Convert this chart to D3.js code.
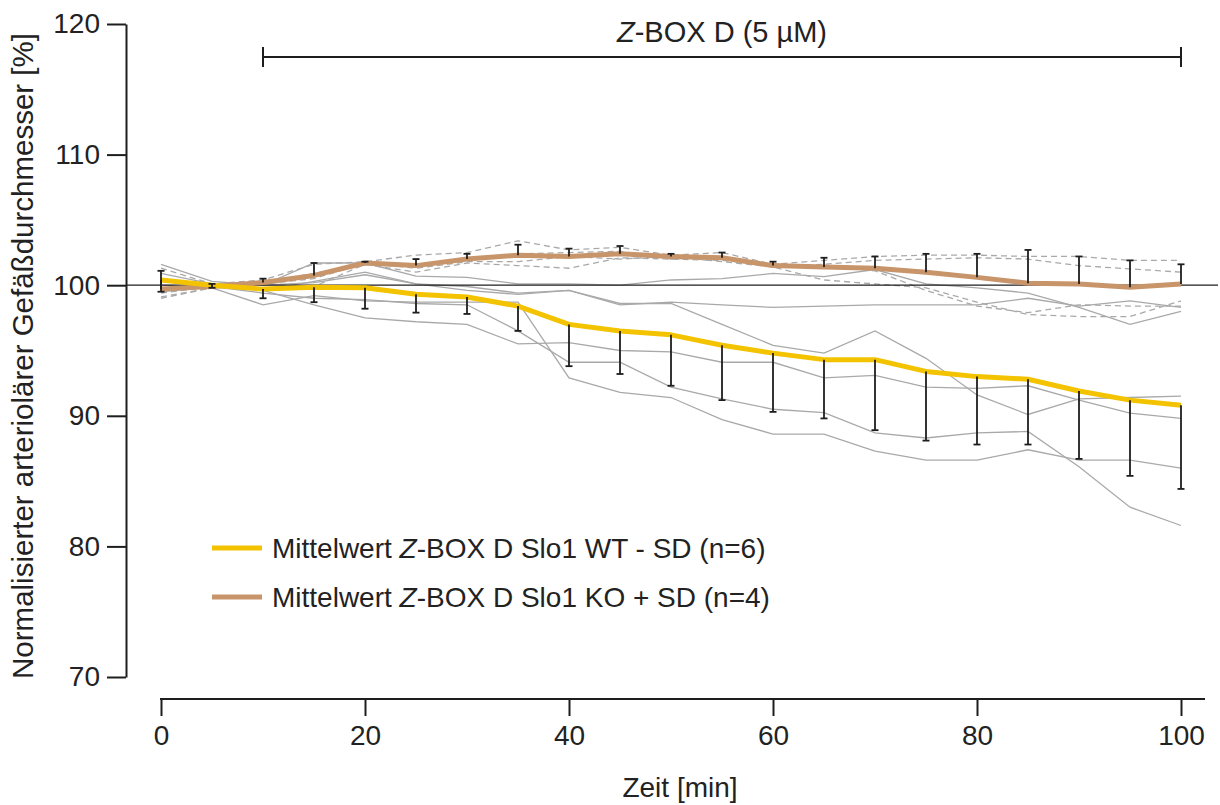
<!DOCTYPE html>
<html>
<head>
<meta charset="utf-8">
<script src="https://cdn.jsdelivr.net/npm/d3@7"></script>
<style>
  html, body { margin: 0; padding: 0; background: #ffffff; }
  svg { display: block; font-family: "Liberation Sans", Arial, sans-serif; }
</style>
</head>
<body>
<svg id="chart" width="1220" height="805"></svg>
<script>
// Time points [min]
const timeMin = [0, 5, 10, 15, 20, 25, 30, 35, 40, 45, 50, 55, 60, 65, 70, 75, 80, 85, 90, 95, 100];

// Slo1 WT: mean and SD (bars drawn downward)
const wtMean = [100.4, 100.0, 99.7, 99.85, 99.8, 99.3, 99.1, 98.4, 97.0, 96.5, 96.2, 95.4, 94.8, 94.3, 94.3, 93.4, 93.0, 92.8, 91.9, 91.2, 90.8];
const wtSD   = [0.9, 0.2, 0.7, 1.15, 1.6, 1.4, 1.3, 1.9, 3.2, 3.3, 3.9, 4.2, 4.5, 4.5, 5.4, 5.3, 5.2, 5.0, 5.2, 5.8, 6.4];

// Slo1 KO: mean and SD (bars drawn upward)
const koMean = [99.7, 99.9, 100.2, 100.75, 101.7, 101.5, 102.0, 102.3, 102.2, 102.4, 102.2, 102.1, 101.5, 101.4, 101.3, 101.0, 100.6, 100.15, 100.1, 99.85, 100.1];
const koSD   = [1.4, 0.2, 0.3, 0.95, 0.1, 0.5, 0.4, 0.8, 0.6, 0.6, 0.2, 0.4, 0.3, 0.7, 0.9, 1.4, 1.8, 2.55, 2.1, 2.05, 1.5];

// Single vessels, Slo1 WT (n=6)
const wt1 = [101.6, 100.3, 100.0, 101.7, 101.7, 100.7, 100.6, 100.1, 100.1, 100.0, 100.4, 100.5, 100.9, 100.65, 101.2, 100.1, 99.8, 99.4, 98.3, 97.0, 98.0];
const wt2 = [100.9, 100.1, 99.6, 100.3, 101.0, 100.1, 99.6, 99.3, 99.6, 98.5, 98.7, 98.5, 98.3, 98.4, 98.5, 98.5, 98.5, 99.0, 98.4, 98.8, 98.3];
const wt3 = [100.5, 100.0, 100.0, 100.2, 100.8, 100.1, 99.9, 99.4, 99.6, 98.6, 98.6, 97.0, 95.4, 94.8, 96.5, 94.4, 91.6, 90.1, 91.3, 91.4, 91.5];
const wt4 = [100.0, 99.9, 99.6, 98.5, 97.5, 97.2, 97.0, 95.5, 95.6, 95.0, 94.9, 94.1, 94.1, 92.9, 93.1, 92.2, 92.1, 92.3, 91.2, 90.2, 89.8];
const wt5 = [99.7, 99.8, 98.5, 99.2, 98.8, 98.7, 98.7, 98.7, 92.9, 91.8, 91.4, 89.7, 88.6, 88.6, 87.3, 86.6, 86.6, 87.4, 86.6, 86.6, 86.0];
const wt6 = [99.5, 99.9, 99.4, 99.0, 98.9, 98.6, 98.5, 96.5, 94.1, 94.1, 92.2, 91.3, 90.5, 90.25, 88.7, 88.3, 88.7, 88.8, 86.1, 83.0, 81.6];

// Single vessels, Slo1 KO (n=4)
const ko1 = [101.3, 100.1, 100.4, 101.6, 101.8, 102.3, 102.5, 103.4, 102.7, 102.9, 102.3, 102.5, 101.6, 101.9, 102.2, 102.3, 102.3, 102.2, 102.2, 101.9, 101.9];
const ko2 = [99.4, 99.9, 100.2, 100.9, 101.7, 101.4, 102.0, 102.4, 102.5, 102.6, 102.0, 102.2, 101.4, 101.6, 101.9, 102.0, 102.1, 102.0, 101.5, 101.25, 101.0];
const ko3 = [99.1, 99.8, 100.1, 100.5, 101.7, 101.3, 101.8, 101.8, 102.2, 102.0, 102.2, 101.8, 101.4, 100.4, 100.1, 99.8, 98.7, 97.75, 97.6, 97.6, 98.8];
const ko4 = [99.0, 99.8, 100.1, 99.9, 101.6, 101.0, 101.7, 101.5, 101.3, 102.1, 102.0, 101.9, 101.5, 101.5, 101.1, 99.6, 98.4, 97.9, 98.5, 98.4, 98.4];

// Axis ticks and text
const yTicks = [70, 80, 90, 100, 110, 120];
const xTicks = [0, 20, 40, 60, 80, 100];
const treatment = { start: 10, end: 100 };
const legendLabels = [
  { pre: "Mittelwert ", it: "Z", post: "-BOX D Slo1 WT - SD (n=6)" },
  { pre: "Mittelwert ", it: "Z", post: "-BOX D Slo1 KO + SD (n=4)" }
];

const WT_COLOR = "#f4c300";
const KO_COLOR = "#c8956b";
const TRACE_COLOR = "#a9a9a9";
const INK = "#1e1e1e";
const FONT_SIZE = 28;

const svg = d3.select("#chart");
const x = d3.scaleLinear().domain([0, 100]).range([161, 1181]);
const y = d3.scaleLinear().domain([70, 120]).range([677, 24]);

const line = d3.line().x((d, i) => x(timeMin[i])).y(d => y(d));

// Individual vessel traces
const traceLayer = svg.append("g");
[wt1, wt2, wt3, wt4, wt5, wt6].forEach(tr => {
  traceLayer.append("path").attr("d", line(tr))
    .attr("fill", "none").attr("stroke", TRACE_COLOR).attr("stroke-width", 1.3);
});
[ko1, ko2, ko3, ko4].forEach(tr => {
  traceLayer.append("path").attr("d", line(tr))
    .attr("fill", "none").attr("stroke", TRACE_COLOR).attr("stroke-width", 1.3)
    .attr("stroke-dasharray", "6,4");
});

// Baseline at 100 %
svg.append("line")
  .attr("x1", 127).attr("x2", 1218)
  .attr("y1", y(100)).attr("y2", y(100))
  .attr("stroke", INK).attr("stroke-width", 1.3);

// Mean curves
svg.append("path").attr("d", line(koMean))
  .attr("fill", "none").attr("stroke", KO_COLOR).attr("stroke-width", 5)
  .attr("stroke-linejoin", "round");
svg.append("path").attr("d", line(wtMean))
  .attr("fill", "none").attr("stroke", WT_COLOR).attr("stroke-width", 5)
  .attr("stroke-linejoin", "round");

// Error bars: WT downward (-SD), KO upward (+SD)
const capW = 3.5;
function errorBars(mean, sd, dir) {
  const g = svg.append("g").attr("stroke", INK).attr("stroke-width", 1.8);
  timeMin.forEach((t, i) => {
    const y0 = y(mean[i]);
    const y1 = y(mean[i] + dir * sd[i]);
    g.append("line").attr("x1", x(t)).attr("x2", x(t)).attr("y1", y0).attr("y2", y1);
    g.append("line").attr("x1", x(t) - capW).attr("x2", x(t) + capW).attr("y1", y1).attr("y2", y1);
  });
}
errorBars(wtMean, wtSD, -1);
errorBars(koMean, koSD, +1);

// Y axis
const yAxis = svg.append("g").attr("transform", "translate(126,0)")
  .call(d3.axisLeft(y).tickValues(yTicks).tickSize(19).tickSizeOuter(0).tickPadding(7));
yAxis.select(".domain").attr("stroke", INK).attr("stroke-width", 2);
yAxis.selectAll(".tick line").attr("stroke", INK).attr("stroke-width", 2);
yAxis.selectAll(".tick text").attr("font-size", FONT_SIZE).attr("fill", "#222")
  .attr("font-family", "Liberation Sans, Arial, sans-serif");

// X axis
const xAxis = svg.append("g").attr("transform", "translate(0,699)")
  .call(d3.axisBottom(x).tickValues(xTicks).tickSize(17).tickSizeOuter(0).tickPadding(9));
xAxis.select(".domain").remove();
xAxis.append("line").attr("x1", x(0) - 1).attr("x2", 1205).attr("y1", 0).attr("y2", 0)
  .attr("stroke", INK).attr("stroke-width", 2);
xAxis.selectAll(".tick line").attr("stroke", INK).attr("stroke-width", 2);
xAxis.selectAll(".tick text").attr("font-size", FONT_SIZE).attr("fill", "#222")
  .attr("font-family", "Liberation Sans, Arial, sans-serif");

// Axis titles
svg.append("text")
  .attr("x", 680).attr("y", 797).attr("text-anchor", "middle")
  .attr("font-size", FONT_SIZE).attr("fill", "#222").text("Zeit [min]");
svg.append("text")
  .attr("transform", "translate(33,356) rotate(-90)")
  .attr("text-anchor", "middle").attr("font-size", 29.5).attr("fill", "#222")
  .text("Normalisierter arteriolärer Gefäßdurchmesser [%]");

// Treatment period bar
const tb = svg.append("g").attr("stroke", INK).attr("stroke-width", 2);
tb.append("line").attr("x1", x(treatment.start)).attr("x2", x(treatment.end)).attr("y1", 57).attr("y2", 57);
tb.append("line").attr("x1", x(treatment.start)).attr("x2", x(treatment.start)).attr("y1", 47).attr("y2", 67);
tb.append("line").attr("x1", x(treatment.end)).attr("x2", x(treatment.end)).attr("y1", 47).attr("y2", 67);
const title = svg.append("text")
  .attr("x", (x(treatment.start) + x(treatment.end)) / 2).attr("y", 42)
  .attr("text-anchor", "middle").attr("font-size", 29).attr("fill", "#222");
title.append("tspan").attr("font-style", "italic").text("Z");
title.append("tspan").text("-BOX D (5 µM)");

// Legend
const legend = svg.append("g");
[WT_COLOR, KO_COLOR].forEach((c, i) => {
  const ly = 548 + i * 49;
  legend.append("line").attr("x1", 212).attr("x2", 262).attr("y1", ly).attr("y2", ly)
    .attr("stroke", c).attr("stroke-width", 5);
  const t = legend.append("text").attr("x", 272).attr("y", ly + 10)
    .attr("font-size", FONT_SIZE).attr("fill", "#222");
  t.append("tspan").text(legendLabels[i].pre);
  t.append("tspan").attr("font-style", "italic").text(legendLabels[i].it);
  t.append("tspan").text(legendLabels[i].post);
});
</script>
</body>
</html>
